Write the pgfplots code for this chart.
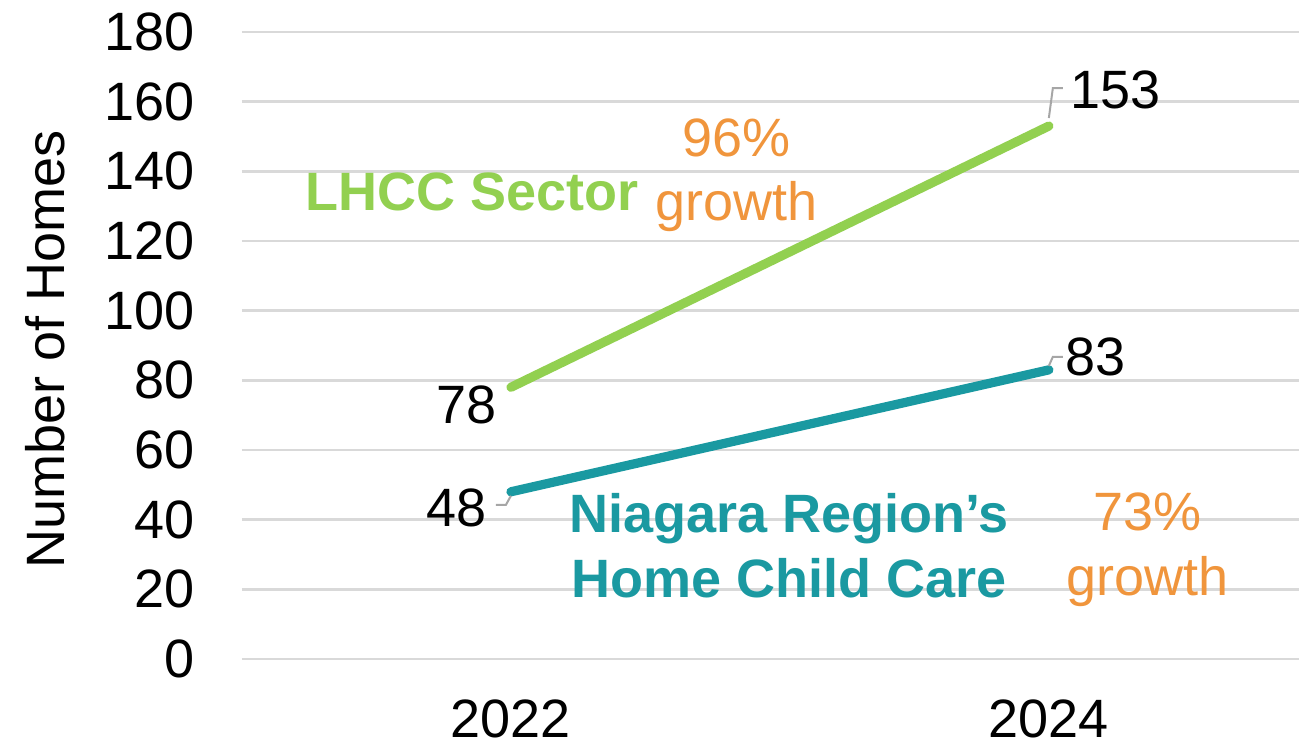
\documentclass[border=0pt]{standalone}
\usepackage{fontspec}
\setmainfont{Liberation Sans}
\usepackage{pgfplots}
\pgfplotsset{compat=1.18}
\definecolor{lhcc}{HTML}{92D050}
\definecolor{niag}{HTML}{1A99A1}
\definecolor{grow}{HTML}{F0953C}
\definecolor{gridc}{HTML}{D9D9D9}
\definecolor{lead}{HTML}{A6A6A6}
\newcommand{\bigf}{\fontsize{13.5}{15.5}\selectfont}
\begin{document}
\begin{tikzpicture}
\begin{axis}[
    scale only axis,
    width=264.25pt, height=156.75pt,
    xmin=-0.5, xmax=1.465, ymin=0, ymax=180,
    xtick={0,1}, xticklabels={2022,2024},
    ytick={0,20,...,180},
    axis line style={draw=none},
    major tick length=0pt,
    ymajorgrids, grid style={gridc, line width=0.6pt},
    /pgf/number format/assume math mode=true,
    tick label style={font=\bigf},
    xticklabel style={anchor=center, inner sep=0pt, yshift=-15pt},
    yticklabel style={anchor=east, inner sep=0pt, xshift=-11.75pt},
    ylabel={Number of Homes},
    ylabel style={font=\bigf, at={(axis description cs:-0.1864,0.493)}, anchor=center, inner sep=0pt},
    clip=false,
]
\addplot[lhcc, line width=2.3pt, line cap=round, mark=none] coordinates {(0,78) (1,153)};
\addplot[niag, line width=2.3pt, line cap=round, mark=none] coordinates {(0,48) (1,83)};

% data labels and leader lines
\draw[lead, line width=0.5pt] ([yshift=2pt]axis cs:1,153) -- ([xshift=1pt,yshift=9.5pt]axis cs:1,153) -- ([xshift=3.5pt,yshift=9.5pt]axis cs:1,153);
\node[font=\bigf] at ([xshift=16.75pt,yshift=9pt]axis cs:1,153) {153};
\draw[lead, line width=0.5pt] ([yshift=1pt]axis cs:1,83) -- ([xshift=1pt,yshift=3.25pt]axis cs:1,83) -- ([xshift=3.5pt,yshift=3.25pt]axis cs:1,83);
\node[font=\bigf] at ([xshift=11.75pt,yshift=3.25pt]axis cs:1,83) {83};
\node[font=\bigf] at ([xshift=-11pt,yshift=-4.5pt]axis cs:0,78) {78};
\draw[lead, line width=0.5pt] ([yshift=-1pt]axis cs:0,48) -- ([xshift=-1.25pt,yshift=-3.25pt]axis cs:0,48) -- ([xshift=-3.75pt,yshift=-3.25pt]axis cs:0,48);
\node[font=\bigf] at ([xshift=-13.5pt,yshift=-4pt]axis cs:0,48) {48};

% series names and growth notes
\node[font=\bigf\bfseries, text=lhcc] at (axis cs:-0.0725,134.1) {LHCC Sector};
\node[font=\fontsize{13.5}{16}\selectfont, text=grow, align=center] at (axis cs:0.42,138.9) {96\%\\growth};
\node[font=\fontsize{13.5}{16.25}\selectfont\bfseries, text=niag, align=center] at (axis cs:0.517,32.6) {Niagara Region’s\\Home Child Care};
\node[font=\fontsize{13.5}{16.25}\selectfont, text=grow, align=center] at (axis cs:1.184,31.3) {73\%\\growth};
\end{axis}
\pgfresetboundingbox
\path[use as bounding box] ([shift={(-60.5pt,-21.5pt)}]current axis.south west) rectangle ([shift={(0pt,8pt)}]current axis.north east);
\end{tikzpicture}
\end{document}
